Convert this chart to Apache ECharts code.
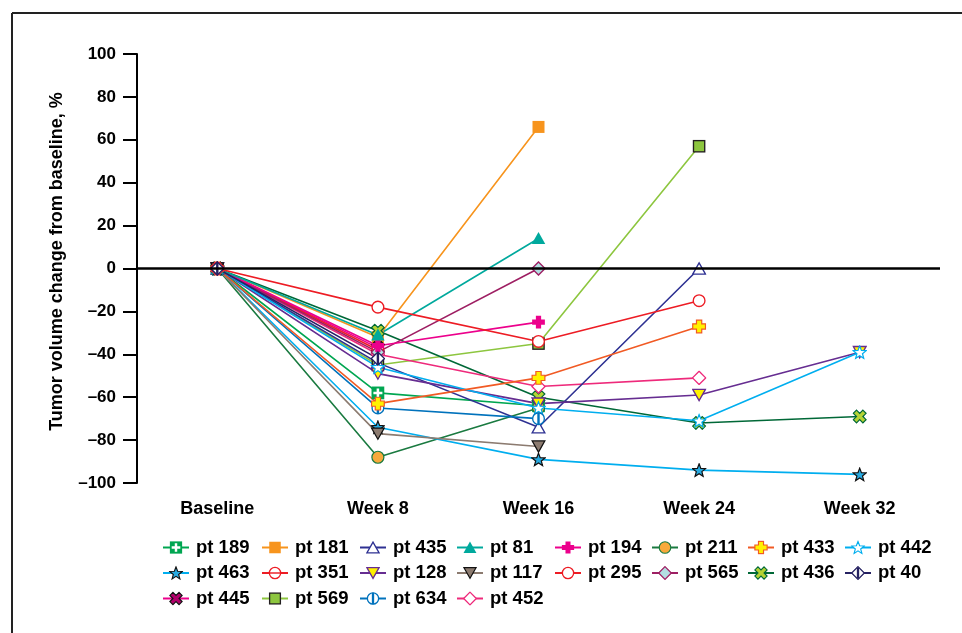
<!DOCTYPE html>
<html>
<head>
<meta charset="utf-8">
<script src="https://cdn.jsdelivr.net/npm/echarts@6/dist/echarts.min.js"></script>
<style>html,body{margin:0;padding:0;background:#fff;}#c{width:962px;height:633px;}</style>
</head>
<body>
<div id="c"></div>
<script>
const categories = ['Baseline', 'Week 8', 'Week 16', 'Week 24', 'Week 32'];
const yTicks = { min: -100, max: 100, interval: 20 };

const pt189 = [0, -58, -64];
const pt181 = [0, -32, 66];
const pt435 = [0, -44, -74, 0];
const pt81  = [0, -31, 14];
const pt194 = [0, -36, -25];
const pt211 = [0, -88, -65];
const pt433 = [0, -63, -51, -27];
const pt442 = [0, -46, -65, -71, -39];
const pt463 = [0, -74, -89, -94, -96];
const pt351 = [0, -38];
const pt128 = [0, -49, -63, -59, -39];
const pt117 = [0, -77, -83];
const pt295 = [0, -18, -34, -15];
const pt565 = [0, -39, 0];
const pt436 = [0, -29, -60, -72, -69];
const pt40  = [0, -42];
const pt445 = [0, -37];
const pt569 = [0, -45, -35, 57];
const pt634 = [0, -65, -70];
const pt452 = [0, -40, -55, -51];

// order in which the series are drawn (first = bottom)
const drawOrder = ['pt 189', 'pt 211', 'pt 569', 'pt 181', 'pt 436', 'pt 445', 'pt 351', 'pt 452', 'pt 435',
  'pt 128', 'pt 442', 'pt 634', 'pt 463', 'pt 117', 'pt 433', 'pt 565', 'pt 194', 'pt 81', 'pt 295', 'pt 40'];

function icon(inner) {
  return 'image://data:image/svg+xml;charset=utf-8,' + encodeURIComponent(
    '<svg xmlns="http://www.w3.org/2000/svg" width="40" height="40" viewBox="0 0 20 20">' + inner + '</svg>');
}
const STAR = 'M10,1.6 L12.29,7.64 L18.75,7.96 L13.71,12.01 L15.41,18.24 L10,14.7 L4.59,18.24 L6.29,12.01 L1.25,7.96 L7.71,7.64 Z';
const PLUS = 'M6.5,1.5h7v5h5v7h-5v5h-7v-5h-5v-7h5z';
const XS = 'M7,1h6v6h6v6h-6v6h-6v-6h-6v-6h6z';
const DIAM = 'M10,1.2 L18.8,10 L10,18.8 L1.2,10 Z';

const specs = [
  ['pt 189', pt189, '#00a651', icon('<rect x="1.5" y="1.5" width="17" height="17" fill="#00a651"/><path d="M8.3,4h3.4v4.3h4.3v3.4h-4.3v4.3h-3.4v-4.3h-4.3v-3.4h4.3z" fill="#fff"/>')],
  ['pt 181', pt181, '#f7941d', icon('<rect x="2" y="2" width="16" height="16" fill="#f7941d"/>')],
  ['pt 435', pt435, '#2e3192', icon('<polygon points="10,2.5 18.5,17.5 1.5,17.5" fill="#fff" stroke="#2e3192" stroke-width="1.8"/>')],
  ['pt 81',  pt81,  '#00a99d', icon('<polygon points="10,1.5 19,17.5 1,17.5" fill="#00a99d"/>')],
  ['pt 194', pt194, '#ec008c', icon('<path d="' + PLUS + '" fill="#ec008c"/>')],
  ['pt 211', pt211, '#1a7a40', icon('<circle cx="10" cy="10" r="8" fill="#f7a93b" stroke="#1a7a40" stroke-width="1.6"/>')],
  ['pt 433', pt433, '#f15a24', icon('<path d="' + PLUS + '" fill="#fff200" stroke="#f15a24" stroke-width="1.6"/>')],
  ['pt 442', pt442, '#00aeef', icon('<path d="' + STAR + '" fill="#fff" stroke="#00aeef" stroke-width="1.6"/>')],
  ['pt 463', pt463, '#00aeef', icon('<path d="' + STAR + '" fill="#27aae1" stroke="#111" stroke-width="1.6"/>')],
  ['pt 351', pt351, '#ed1c24', icon('<circle cx="10" cy="10" r="7.8" fill="#fff" stroke="#ed1c24" stroke-width="1.8"/><rect x="2" y="9" width="16" height="2" fill="#ed1c24"/>')],
  ['pt 128', pt128, '#662d91', icon('<polygon points="1.5,2.5 18.5,2.5 10,17.5" fill="#fff200" stroke="#662d91" stroke-width="1.8"/>')],
  ['pt 117', pt117, '#8c7b70', icon('<polygon points="1.5,2.5 18.5,2.5 10,17.5" fill="#8c7b70" stroke="#111" stroke-width="1.6"/>')],
  ['pt 295', pt295, '#ed1c24', icon('<circle cx="10" cy="10" r="7.8" fill="#fff" stroke="#ed1c24" stroke-width="1.8"/>')],
  ['pt 565', pt565, '#9e1f63', icon('<path d="' + DIAM + '" fill="#b3dfe2" stroke="#9e1f63" stroke-width="1.8"/>')],
  ['pt 436', pt436, '#006837', icon('<path d="' + XS + '" transform="rotate(45 10 10)" fill="#b5d334" stroke="#006837" stroke-width="1.6"/>')],
  ['pt 40',  pt40,  '#262262', icon('<path d="' + DIAM + '" fill="#fff" stroke="#262262" stroke-width="1.8"/><rect x="8.4" y="2.5" width="3.2" height="15" fill="#262262"/>')],
  ['pt 445', pt445, '#ec008c', icon('<path d="' + XS + '" transform="rotate(45 10 10)" fill="#b0006a" stroke="#111" stroke-width="1.6"/>')],
  ['pt 569', pt569, '#8dc63f', icon('<rect x="2.5" y="2.5" width="15" height="15" fill="#8dc63f" stroke="#231f20" stroke-width="1.8"/>')],
  ['pt 634', pt634, '#0072bc', icon('<circle cx="10" cy="10" r="7.8" fill="#fff" stroke="#0072bc" stroke-width="1.8"/><rect x="8.4" y="2" width="3.2" height="16" fill="#0072bc"/>')],
  ['pt 452', pt452, '#ee2a7b', icon('<path d="' + DIAM + '" fill="#fff" stroke="#ee2a7b" stroke-width="1.8"/>')]
];

const legendColumns = [
  ['pt 189', 'pt 463', 'pt 445'],
  ['pt 181', 'pt 351', 'pt 569'],
  ['pt 435', 'pt 128', 'pt 634'],
  ['pt 81', 'pt 117', 'pt 452'],
  ['pt 194', 'pt 295'],
  ['pt 211', 'pt 565'],
  ['pt 433', 'pt 436'],
  ['pt 442', 'pt 40']
];
const legendLeft = [162, 261, 359, 456, 554, 651, 747, 844];

const FONT = '"Liberation Sans", Arial, Helvetica, sans-serif';

const byName = {};
specs.forEach(function (s) { byName[s[0]] = s; });
const series = drawOrder.map(function (n) {
  const s = byName[n];
  return {
    name: s[0],
    type: 'line',
    data: s[1],
    symbol: s[3],
    symbolSize: 15,
    showSymbol: true,
    z: 3,
    lineStyle: { color: s[2], width: 1.6 },
    itemStyle: { color: s[2] },
    emphasis: { disabled: true }
  };
});
// zero reference line
series.unshift({
  type: 'line',
  data: [],
  z: 1,
  silent: true,
  markLine: {
    silent: true,
    symbol: 'none',
    label: { show: false },
    lineStyle: { color: '#000', width: 2.5, type: 'solid' },
    data: [{ yAxis: 0 }]
  }
});

const legends = legendColumns.map(function (col, i) {
  return {
    data: col,
    orient: 'vertical',
    left: legendLeft[i],
    top: 538,
    itemWidth: 26,
    itemHeight: 18,
    itemGap: 6.5,
    padding: 0,
    selectedMode: false,
    textStyle: { fontFamily: FONT, fontSize: 18.5, fontWeight: 'bold', color: '#000', padding: [0, 0, 0, 2] }
  };
});

const chart = echarts.init(document.getElementById('c'), null, { renderer: 'canvas' });
chart.setOption({
  animation: false,
  backgroundColor: '#fff',
  graphic: [
    { type: 'line', shape: { x1: 12, y1: 13, x2: 962, y2: 13 }, style: { stroke: '#222', lineWidth: 2 } },
    { type: 'line', shape: { x1: 12, y1: 13, x2: 12, y2: 633 }, style: { stroke: '#222', lineWidth: 2 } }
  ],
  grid: { left: 137, right: 22, top: 54, bottom: 150, containLabel: false },
  legend: legends,
  xAxis: {
    type: 'category',
    data: categories,
    boundaryGap: true,
    axisLine: { show: false },
    axisTick: { show: false },
    axisLabel: { margin: 17, fontFamily: FONT, fontSize: 18, fontWeight: 'bold', color: '#000' }
  },
  yAxis: {
    type: 'value',
    min: yTicks.min,
    max: yTicks.max,
    interval: yTicks.interval,
    name: 'Tumor volume change from baseline, %',
    nameLocation: 'middle',
    nameGap: 71,
    nameTextStyle: { fontFamily: FONT, fontSize: 18, fontWeight: 'bold', color: '#000', padding: [0, 0, 0, 14] },
    axisLine: { show: true, lineStyle: { color: '#000', width: 2 } },
    axisTick: { show: true, length: 14, lineStyle: { color: '#000', width: 2 } },
    splitLine: { show: false },
    axisLabel: {
      margin: 21,
      fontFamily: FONT,
      fontSize: 17,
      fontWeight: 'bold',
      color: '#000',
      formatter: function (v) { return v < 0 ? '\u2013' + Math.abs(v) : String(v); }
    }
  },
  series: series
});
</script>
</body>
</html>
